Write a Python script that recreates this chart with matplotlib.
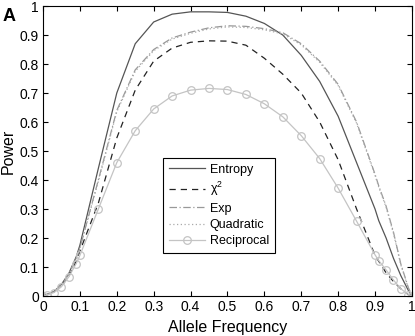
import numpy as np
import matplotlib
matplotlib.use("Agg")
import matplotlib.pyplot as plt

plt.rcParams['font.family'] = ['Liberation Sans', 'DejaVu Sans']
plt.rcParams['mathtext.fontset'] = 'custom'
plt.rcParams['mathtext.rm'] = 'Liberation Sans'
plt.rcParams['mathtext.it'] = 'Liberation Sans'

freq = [0, 0.01, 0.03, 0.05, 0.07, 0.09, 0.1, 0.15, 0.2, 0.25, 0.3, 0.35, 0.4, 0.45,
        0.5, 0.55, 0.6, 0.65, 0.7, 0.75, 0.8, 0.85, 0.9, 0.91, 0.93, 0.95, 0.97, 0.99, 1.0]

entropy = [0, 0.005, 0.016, 0.04, 0.078, 0.135, 0.175, 0.44, 0.70, 0.87, 0.945, 0.972, 0.98, 0.98,
           0.978, 0.965, 0.94, 0.90, 0.83, 0.74, 0.62, 0.46, 0.30, 0.26, 0.20, 0.13, 0.07, 0.02, 0]
chi2 = [0, 0.004, 0.014, 0.034, 0.068, 0.12, 0.155, 0.32, 0.545, 0.71, 0.81, 0.855, 0.875, 0.88,
        0.879, 0.865, 0.82, 0.765, 0.70, 0.60, 0.47, 0.30, 0.14, 0.12, 0.08, 0.05, 0.025, 0.005, 0]
expo = [0, 0.005, 0.015, 0.038, 0.075, 0.13, 0.165, 0.40, 0.64, 0.78, 0.85, 0.89, 0.91, 0.925,
        0.932, 0.93, 0.922, 0.908, 0.87, 0.81, 0.73, 0.60, 0.42, 0.38, 0.31, 0.22, 0.11, 0.03, 0]
quadratic = [0, 0.005, 0.015, 0.037, 0.074, 0.128, 0.163, 0.395, 0.635, 0.775, 0.846, 0.886, 0.906, 0.921,
             0.928, 0.926, 0.918, 0.904, 0.866, 0.806, 0.726, 0.596, 0.416, 0.376, 0.306, 0.216, 0.107, 0.028, 0]
reciprocal = [0, 0.003, 0.012, 0.032, 0.066, 0.112, 0.14, 0.30, 0.46, 0.57, 0.645, 0.69, 0.71, 0.716,
              0.712, 0.695, 0.663, 0.618, 0.553, 0.474, 0.372, 0.258, 0.142, 0.122, 0.09, 0.055, 0.025, 0.005, 0]

ticks = [0, 0.1, 0.2, 0.3, 0.4, 0.5, 0.6, 0.7, 0.8, 0.9, 1]
tick_labels = ['0', '0.1', '0.2', '0.3', '0.4', '0.5', '0.6', '0.7', '0.8', '0.9', '1']

fig = plt.figure(figsize=(4.15, 3.36), dpi=100)
ax = fig.add_axes([0.1036, 0.119, 0.889, 0.863])

ax.plot(freq, entropy, color='#555555', lw=0.9, ls='-', label='Entropy')
ax.plot(freq, chi2, color='#222222', lw=0.9, ls=(0, (5, 4)), label='χ$^{2}$')
ax.plot(freq, expo, color='#999999', lw=0.9, ls=(0, (6, 2, 1, 2)), label='Exp')
ax.plot(freq, quadratic, color='#aaaaaa', lw=0.9, ls=(0, (1, 2)), label='Quadratic')
ax.plot(freq, reciprocal, color='#c4c4c4', lw=0.9, ls='-', marker='o', ms=5.5,
        mfc='none', mec='#c4c4c4', mew=0.9, label='Reciprocal')

ax.set_xlim(0, 1)
ax.set_ylim(0, 1)
ax.set_xticks(ticks)
ax.set_xticklabels(tick_labels)
ax.set_yticks(ticks)
ax.set_yticklabels(tick_labels)
ax.tick_params(direction='in', top=True, right=True, labelsize=10, length=3.5, width=0.8, pad=3)
for s in ax.spines.values():
    s.set_linewidth(0.8)
    s.set_color('black')

ax.set_xlabel('Allele Frequency', fontsize=11.5, labelpad=4)
ax.set_ylabel('Power', fontsize=11.5, labelpad=3)

leg = ax.legend(loc='lower left', bbox_to_anchor=(0.325, 0.148), borderaxespad=0, fontsize=9,
                frameon=True, fancybox=False, edgecolor='black', framealpha=1,
                handlelength=2.9, handletextpad=0.4, labelspacing=0.35, borderpad=0.45)
leg.get_frame().set_linewidth(0.8)

fig.text(0.007, 0.975, 'A', fontsize=13, fontweight='bold', va='top', ha='left')

fig.savefig('out.png', dpi=100)
